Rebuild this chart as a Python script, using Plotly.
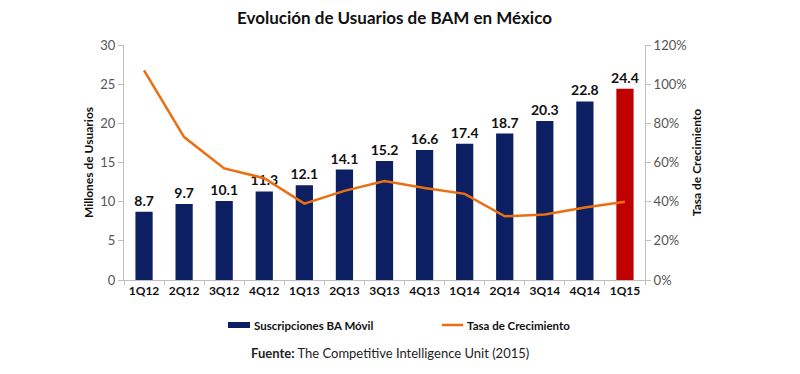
import plotly.graph_objects as go

quarters = ["1Q12", "2Q12", "3Q12", "4Q12", "1Q13", "2Q13", "3Q13", "4Q13",
            "1Q14", "2Q14", "3Q14", "4Q14", "1Q15"]
subscriptions = [8.7, 9.7, 10.1, 11.3, 12.1, 14.1, 15.2, 16.6, 17.4, 18.7, 20.3, 22.8, 24.4]
growth_rate = [1.07, 0.73, 0.57, 0.52, 0.39, 0.455, 0.505, 0.47, 0.44, 0.325, 0.335, 0.37, 0.40]
left_ticks = [0, 5, 10, 15, 20, 25, 30]
right_ticks = [0, 0.2, 0.4, 0.6, 0.8, 1.0, 1.2]

NAVY = "#0D1F63"
RED = "#C00000"
ORANGE = "#EB6E10"
FONT = "Lato"

# page body has an 8px default margin; shift drawing up/left to compensate
OFF = 8
L, T, PW, PH = 124 - OFF, 45 - OFF, 521, 235

bar_colors = [NAVY] * (len(quarters) - 1) + [RED]


def px(x):
    return (x - 124) / PW


def py(y):
    return (280 - y) / PH


fig = go.Figure()
fig.add_trace(go.Bar(
    x=quarters, y=subscriptions, name="Suscripciones BA Móvil",
    marker=dict(color=bar_colors, line=dict(width=0)),
    width=0.43,
    text=[f"{v:.1f}" for v in subscriptions], textposition="outside",
    constraintext="none",
    textfont=dict(family=FONT, size=14, color="#111111", weight="bold"),
    cliponaxis=False, showlegend=False,
))
fig.add_trace(go.Scatter(
    x=quarters, y=growth_rate, name="Tasa de Crecimiento", yaxis="y2",
    mode="lines", line=dict(color=ORANGE, width=2.5), showlegend=False,
))

fig.update_layout(
    width=800, height=374,
    margin=dict(l=L, r=800 - L - PW, t=T, b=374 - T - PH, autoexpand=False),
    paper_bgcolor="white", plot_bgcolor="white",
    font=dict(family=FONT, color="#222222"),
    xaxis=dict(
        showline=True, linecolor="#BFBFBF", linewidth=1,
        ticks="outside", tickcolor="#BFBFBF", ticklen=4,
        tickson="boundaries",
        tickfont=dict(family=FONT, size=12, color="#111111", weight="bold"),
        showgrid=False,
    ),
    yaxis=dict(
        range=[0, 30], tickvals=left_ticks, showgrid=False, zeroline=False,
        showline=True, linecolor="#BFBFBF", linewidth=1,
        ticks="outside", tickcolor="#BFBFBF", ticklen=5,
        tickfont=dict(family=FONT, size=13, color="#555555"),
        title=dict(text="Millones de Usuarios",
                   font=dict(family=FONT, size=12, color="#111111", weight="bold"),
                   standoff=4),
    ),
    yaxis2=dict(
        range=[0, 1.2], tickvals=right_ticks, tickformat=".0%",
        overlaying="y", side="right", showgrid=False, zeroline=False,
        showline=True, linecolor="#BFBFBF", linewidth=1,
        ticks="outside", tickcolor="#BFBFBF", ticklen=5,
        tickfont=dict(family=FONT, size=13, color="#555555"),
        title=dict(text="Tasa de Crecimiento",
                   font=dict(family=FONT, size=12, color="#111111", weight="bold"),
                   standoff=6),
    ),
    shapes=[
        dict(type="rect", xref="paper", yref="paper",
             x0=px(228), x1=px(250), y0=py(328), y1=py(322),
             fillcolor=NAVY, line=dict(width=0)),
        dict(type="line", xref="paper", yref="paper",
             x0=px(442), x1=px(463), y0=py(325), y1=py(325),
             line=dict(color=ORANGE, width=2.5)),
    ],
    annotations=[
        dict(text="Evolución de Usuarios de BAM en México", xref="paper", yref="paper",
             x=px(394), y=py(18), xanchor="center", yanchor="middle",
             showarrow=False, font=dict(family=FONT, size=17, color="#111111", weight="bold")),
        dict(text="Suscripciones BA Móvil", xref="paper", yref="paper",
             x=px(252), y=py(325), xanchor="left", yanchor="middle",
             showarrow=False, font=dict(family=FONT, size=11.5, color="#111111", weight="bold")),
        dict(text="Tasa de Crecimiento", xref="paper", yref="paper",
             x=px(465), y=py(325), xanchor="left", yanchor="middle",
             showarrow=False, font=dict(family=FONT, size=11.5, color="#111111", weight="bold")),
        dict(text="<b>Fuente:</b> The Competitive Intelligence Unit (2015)",
             xref="paper", yref="paper",
             x=px(249), y=py(353), xanchor="left", yanchor="middle",
             showarrow=False, font=dict(family=FONT, size=13, color="#222222")),
    ],
)

fig.write_html("out.html")
